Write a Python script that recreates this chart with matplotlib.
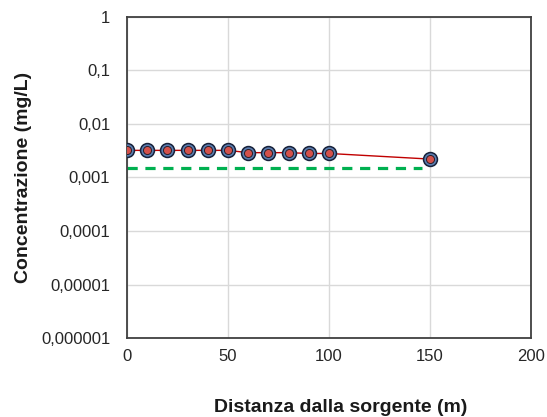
import matplotlib
matplotlib.use("Agg")
import matplotlib.pyplot as plt
from matplotlib.ticker import FixedLocator, FixedFormatter

plt.rcParams['font.family'] = ['Liberation Sans', 'DejaVu Sans']

# dati
distanza = [0, 10, 20, 30, 40, 50, 60, 70, 80, 90, 100, 150]
concentrazione = [0.0032, 0.0032, 0.0032, 0.0032, 0.0032, 0.0032,
                  0.0029, 0.0029, 0.0029, 0.0028, 0.0028, 0.0022]
limite_x = [0, 146]
limite_y = [0.0015, 0.0015]

y_ticks = [1e-6, 1e-5, 1e-4, 1e-3, 1e-2, 1e-1, 1]
y_labels = ["0,000001", "0,00001", "0,0001", "0,001", "0,01", "0,1", "1"]
x_ticks = [0, 50, 100, 150, 200]

fig = plt.figure(figsize=(5.47, 4.17), dpi=100)
ax = fig.add_axes([0.232, 0.189, 0.739, 0.771])

ax.plot(limite_x, limite_y, color='#00B050', linewidth=2.3,
        dashes=(3.2, 2.4), zorder=2)
ax.plot(distanza, concentrazione, color='#C00000', linewidth=1.0, zorder=3)
ax.plot(distanza, concentrazione, linestyle='none', marker='o', markersize=10,
        markerfacecolor='#5A7DB0', markeredgecolor='#17213A',
        markeredgewidth=1.1, zorder=4)
ax.plot(distanza, concentrazione, linestyle='none', marker='o', markersize=5.8,
        markerfacecolor='#D4504A', markeredgecolor='#2A1F2A',
        markeredgewidth=0.7, zorder=5)

ax.set_yscale('log')
ax.set_ylim(1e-6, 1)
ax.set_xlim(0, 200)
ax.yaxis.set_major_locator(FixedLocator(y_ticks))
ax.yaxis.set_major_formatter(FixedFormatter(y_labels))
ax.yaxis.set_minor_locator(FixedLocator([]))
ax.set_xticks(x_ticks)

ax.grid(True, color='#D9D9D9', linewidth=1.0, zorder=0)
ax.set_axisbelow(True)
for s in ax.spines.values():
    s.set_color('#404040')
    s.set_linewidth(1.3)

ax.tick_params(axis='both', length=0, labelsize=12, colors='#262626')
ax.tick_params(axis='y', pad=12)
ax.tick_params(axis='x', pad=8)

ax.set_ylabel("Concentrazione (mg/L)", fontsize=14, fontweight='bold',
              color='#1A1A1A')
ax.yaxis.set_label_coords(-0.235, 0.5)
ax.set_xlabel("Distanza dalla sorgente (m)", fontsize=14, fontweight='bold',
              color='#1A1A1A')
ax.xaxis.set_label_coords(0.53, -0.19)

fig.savefig("out.png", dpi=100)
